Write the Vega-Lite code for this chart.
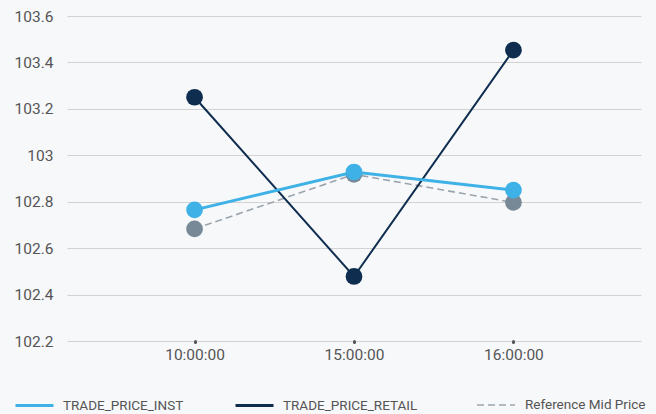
{
  "$schema": "https://vega.github.io/schema/vega-lite/v6.json",
  "width": 574,
  "height": 325,
  "autosize": "none",
  "padding": {"left": 67, "top": 16, "right": 15, "bottom": 73},
  "background": "#f7f8fa",
  "config": {
    "view": {"stroke": null},
    "font": "Roboto",
    "axis": {"labelFont": "Roboto", "labelColor": "#555555", "labelFontSize": 15.5, "domain": false, "gridColor": "#d2d2d2", "gridWidth": 1.2},
    "legend": {"labelFont": "Roboto", "labelColor": "#555555", "labelFontSize": 13.5}
  },
  "data": {
    "values": [
      {"time": "10:00:00", "series": "TRADE_PRICE_INST", "price": 102.765},
      {"time": "15:00:00", "series": "TRADE_PRICE_INST", "price": 102.928},
      {"time": "16:00:00", "series": "TRADE_PRICE_INST", "price": 102.85},
      {"time": "10:00:00", "series": "TRADE_PRICE_RETAIL", "price": 103.25},
      {"time": "15:00:00", "series": "TRADE_PRICE_RETAIL", "price": 102.478},
      {"time": "16:00:00", "series": "TRADE_PRICE_RETAIL", "price": 103.453},
      {"time": "10:00:00", "series": "Reference Mid Price", "price": 102.683},
      {"time": "15:00:00", "series": "Reference Mid Price", "price": 102.918},
      {"time": "16:00:00", "series": "Reference Mid Price", "price": 102.797}
    ]
  },
  "encoding": {
    "x": {
      "field": "time", "type": "ordinal",
      "scale": {"type": "point", "padding": 0.8},
      "axis": {"title": null, "labelAngle": 0, "grid": false, "tickSize": 1, "tickWidth": 3, "tickCap": "round", "tickColor": "#555555", "labelPadding": 5}
    },
    "y": {
      "field": "price", "type": "quantitative",
      "scale": {"domain": [102.2, 103.6], "nice": false, "zero": false},
      "axis": {"title": null, "values": [102.2, 102.4, 102.6, 102.8, 103, 103.2, 103.4, 103.6], "format": ".5~g", "ticks": false, "labelPadding": 14}
    }
  },
  "layer": [
    {
      "transform": [{"filter": "datum.series === 'Reference Mid Price'"}],
      "mark": {"type": "line", "color": "#9ba5ad", "strokeWidth": 1.6},
      "encoding": {
        "strokeDash": {
          "field": "series", "type": "nominal",
          "scale": {"domain": ["Reference Mid Price"], "range": [[7, 4]]},
          "legend": {"title": null, "orient": "none", "legendX": 409, "legendY": 369, "symbolType": "stroke", "symbolSize": 1444, "symbolStrokeWidth": 1.6, "symbolStrokeColor": "#9ba5ad", "labelOffset": 9}
        }
      }
    },
    {
      "transform": [{"filter": "datum.series === 'Reference Mid Price'"}],
      "mark": {"type": "circle", "color": "#778896", "opacity": 1, "size": 280},
      "encoding": {}
    },
    {
      "transform": [{"filter": "datum.series === 'TRADE_PRICE_RETAIL'"}],
      "mark": {"type": "line", "strokeWidth": 2},
      "encoding": {
        "color": {
          "field": "series", "type": "nominal",
          "scale": {"domain": ["TRADE_PRICE_INST", "TRADE_PRICE_RETAIL"], "range": ["#3eb1e6", "#0f2d4f"]},
          "legend": {"title": null, "orient": "none", "direction": "horizontal", "legendX": -53, "legendY": 369, "symbolType": "stroke", "symbolSize": 1444, "symbolStrokeWidth": 3, "labelOffset": 8, "columnPadding": 45}
        }
      }
    },
    {
      "transform": [{"filter": "datum.series === 'TRADE_PRICE_INST'"}],
      "mark": {"type": "line", "strokeWidth": 3},
      "encoding": {"color": {"field": "series", "type": "nominal"}}
    },
    {
      "transform": [{"filter": "datum.series !== 'Reference Mid Price'"}],
      "mark": {"type": "circle", "opacity": 1, "size": 280},
      "encoding": {"color": {"field": "series", "type": "nominal"}}
    }
  ]
}
